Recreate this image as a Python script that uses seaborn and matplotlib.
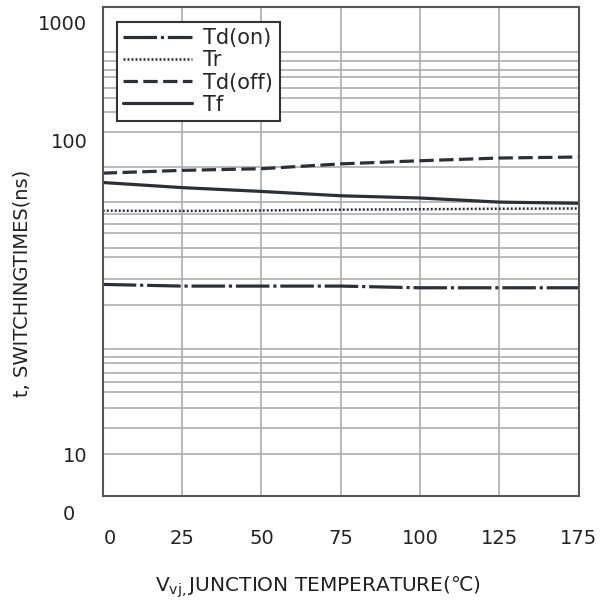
import numpy as np
import pandas as pd
import matplotlib
matplotlib.use('Agg')
import matplotlib.pyplot as plt
import matplotlib.transforms as mtransforms
from matplotlib.ticker import FixedLocator, NullFormatter
import seaborn as sns

# x columns of the sheet (last gridline is printed as 175 on the original)
temp_pos = [0, 25, 50, 75, 100, 125, 150]
temp_labels = ['0', '25', '50', '75', '100', '125', '175']

# switching times in ns
td_on = [33.6, 33.2, 33.2, 33.2, 32.8, 32.8, 32.8]
tr = [56.9, 56.8, 57.0, 57.3, 57.5, 57.7, 57.8]
td_off = [74.4, 75.9, 76.8, 79.5, 81.3, 82.9, 83.5]
tf = [69.6, 67.1, 65.3, 63.3, 62.3, 60.5, 60.0]
series_names = ['Td(on)', 'Tr', 'Td(off)', 'Tf']

# y labels as printed, and the irregular horizontal grid of the sheet
ytick_vals = [10, 94, 218]
ytick_labels = ['10', '100', '1000']
hgrid_vals = [177, 166, 156, 148, 137, 127, 115, 100, 78, 60.6, 55.6, 51.8,
              48.6, 43.6, 40.9, 35.0, 29.0, 21.2, 20.0, 19.2, 17.85, 16.7,
              15.6, 13.9, 12.05, 10]

df = pd.DataFrame({'T': temp_pos * 4,
                   't': td_on + tr + td_off + tf,
                   'series': np.repeat(series_names, len(temp_pos))})

sns.set_style('white')
plt.rcParams['font.family'] = ['DejaVu Sans']
plt.rcParams['mathtext.fontset'] = 'dejavusans'

fig = plt.figure(figsize=(6, 6.09), dpi=100)
ax = fig.add_axes([0.1712, 0.1856, 0.7933, 0.8030])

line_col = '#2b3038'
styles = {'Td(on)': dict(ls=(0, (10.5, 1.2, 1.0, 1.2)), lw=2.3),
          'Tr': dict(ls=(0, (0.8, 0.8)), lw=1.8),
          'Td(off)': dict(ls=(0, (4.5, 1.7)), lw=2.3),
          'Tf': dict(ls='-', lw=2.3)}
for name in series_names:
    sub = df[df['series'] == name]
    sns.lineplot(x='T', y='t', data=sub, ax=ax, color=line_col,
                 linestyle=styles[name]['ls'], linewidth=styles[name]['lw'],
                 label=name)

ax.set_yscale('log')
ax.set_xlim(0, 150)
ax.set_ylim(7.41, 244)

# grid through minor ticks
ax.xaxis.remove_overlapping_locs = False
ax.yaxis.remove_overlapping_locs = False
ax.xaxis.set_minor_locator(FixedLocator(temp_pos[1:-1]))
ax.yaxis.set_minor_locator(FixedLocator(hgrid_vals))
ax.yaxis.set_minor_formatter(NullFormatter())
ax.grid(which='major', visible=False)
ax.grid(which='minor', color='#adadad', lw=1.2)
ax.set_axisbelow(True)

ax.set_xticks(temp_pos)
ax.set_xticklabels(temp_labels)
ax.set_yticks(ytick_vals)
ax.set_yticklabels(ytick_labels)
ax.tick_params(which='both', length=0)
ax.tick_params(axis='x', pad=24, labelsize=14, colors='#222222')
ax.tick_params(axis='y', pad=11, labelsize=14, colors='#222222')

xl = ax.get_xticklabels()
xl[0].set_transform(xl[0].get_transform() + mtransforms.ScaledTranslation(0.07, 0, fig.dpi_scale_trans))

ax.text(-0.058, 6.47, '0', transform=ax.get_yaxis_transform(), ha='right',
        va='center', fontsize=14, color='#222222', clip_on=False)

for sp in ax.spines.values():
    sp.set_color('#555555')
    sp.set_linewidth(1.5)

ax.set_xlabel('')
ax.set_ylabel('')
fig.text(0.037, 0.535, 't, SWITCHINGTIMES(ns)', rotation=90, ha='center',
         va='center', fontsize=14, color='#222222')
fig.text(0.53, 0.036, r'V$_{\mathregular{vj,}}$JUNCTION TEMPERATURE(℃)',
         ha='center', va='center', fontsize=14.5, color='#222222')

leg = ax.legend(loc='upper left', bbox_to_anchor=(0.030, 0.969),
                borderaxespad=0, fancybox=False, framealpha=1,
                edgecolor='#333333', fontsize=15, handlelength=3.3,
                handletextpad=0.55, labelspacing=0.1, borderpad=0.3)
leg.get_frame().set_linewidth(1.5)

fig.savefig('out.png', dpi=100)
